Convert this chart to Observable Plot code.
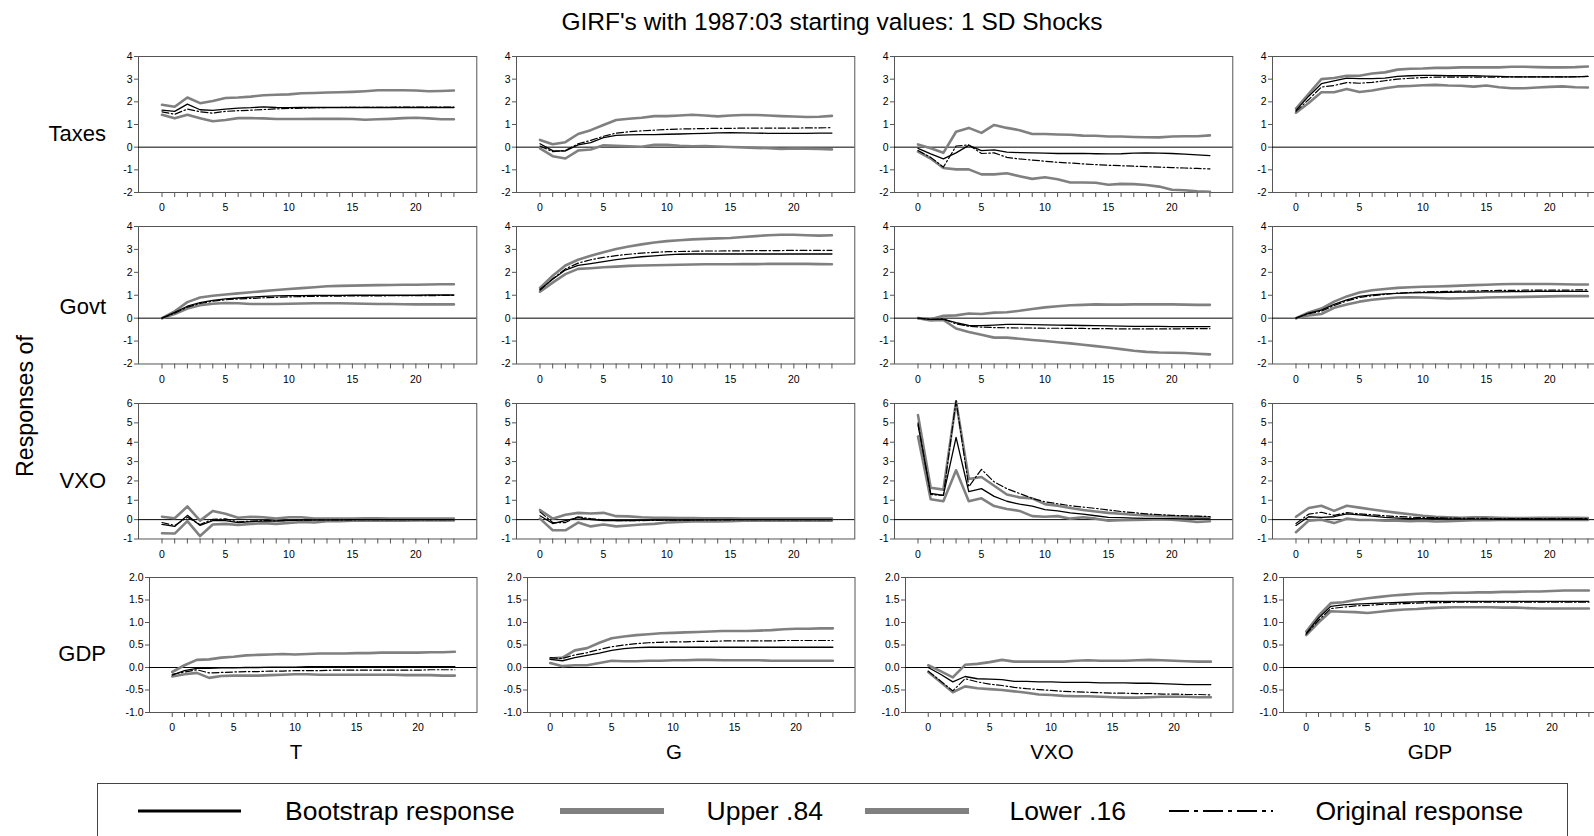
<!DOCTYPE html>
<html><head><meta charset="utf-8">
<script src="https://cdn.jsdelivr.net/npm/d3@7"></script>
<script src="https://cdn.jsdelivr.net/npm/@observablehq/plot@0.6"></script>
<style>
html,body{margin:0;padding:0;background:#fff;overflow:hidden;}
#root{position:relative;width:1594px;height:836px;overflow:hidden;font-family:"Liberation Sans",Arial,sans-serif;color:#000;}
.abs{position:absolute;white-space:nowrap;line-height:1;}
.c{transform:translate(-50%,-50%);}
</style></head><body><div id="root"></div>
<script>
// ---------- categories / labels ----------
const horizons = [0,1,2,3,4,5,6,7,8,9,10,11,12,13,14,15,16,17,18,19,20,21,22,23];
const responses = ["Taxes","Govt","VXO","GDP"];
const shocks = ["T","G","VXO","GDP"];
const xTickLabels = [0,5,10,15,20];
const yTicksTaxes = [-2,-1,0,1,2,3,4];
const yTicksGovt = [-2,-1,0,1,2,3,4];
const yTicksVXO = [-1,0,1,2,3,4,5,6];
const yTicksGDP = [-1.0,-0.5,0.0,0.5,1.0,1.5,2.0];
const titleText = "GIRF's with 1987:03 starting values: 1 SD Shocks";
const yAxisTitle = "Responses of";
const seriesNames = ["Bootstrap response","Upper .84","Lower .16","Original response"];

// ---------- Taxes responses ----------
const taxes_T_upper = [1.87,1.78,2.19,1.94,2.04,2.17,2.19,2.23,2.29,2.31,2.33,2.38,2.39,2.41,2.42,2.44,2.47,2.51,2.51,2.51,2.50,2.47,2.48,2.50];
const taxes_T_boot  = [1.63,1.58,1.90,1.65,1.62,1.68,1.72,1.74,1.78,1.75,1.74,1.75,1.75,1.75,1.75,1.75,1.75,1.75,1.75,1.75,1.75,1.75,1.75,1.75];
const taxes_T_orig  = [1.56,1.45,1.68,1.56,1.50,1.58,1.61,1.63,1.66,1.69,1.71,1.72,1.74,1.75,1.75,1.76,1.76,1.76,1.76,1.77,1.77,1.77,1.77,1.77];
const taxes_T_lower = [1.43,1.27,1.43,1.28,1.14,1.20,1.28,1.28,1.27,1.24,1.24,1.24,1.25,1.25,1.25,1.24,1.21,1.23,1.25,1.28,1.30,1.27,1.23,1.23];

const taxes_G_upper = [0.32,0.13,0.22,0.58,0.75,0.98,1.20,1.25,1.30,1.37,1.37,1.40,1.43,1.40,1.36,1.40,1.42,1.42,1.40,1.37,1.35,1.33,1.34,1.38];
const taxes_G_boot  = [0.15,-0.15,-0.17,0.10,0.20,0.42,0.52,0.54,0.55,0.55,0.57,0.58,0.60,0.61,0.63,0.64,0.63,0.62,0.61,0.61,0.61,0.61,0.62,0.62];
const taxes_G_orig  = [0.05,-0.20,-0.15,0.15,0.30,0.48,0.62,0.68,0.72,0.75,0.78,0.80,0.81,0.82,0.83,0.83,0.84,0.84,0.84,0.84,0.84,0.85,0.85,0.86];
const taxes_G_lower = [-0.05,-0.40,-0.50,-0.15,-0.10,0.08,0.06,0.04,0.02,0.10,0.10,0.06,0.04,0.05,0.03,0.01,-0.01,-0.03,-0.05,-0.08,-0.06,-0.07,-0.08,-0.10];

const taxes_VXO_upper = [0.12,-0.05,-0.25,0.68,0.85,0.63,0.98,0.85,0.75,0.58,0.58,0.56,0.55,0.51,0.50,0.47,0.47,0.45,0.44,0.43,0.47,0.48,0.48,0.52];
const taxes_VXO_boot  = [-0.05,-0.30,-0.52,-0.25,0.08,-0.15,-0.12,-0.22,-0.24,-0.25,-0.26,-0.28,-0.28,-0.27,-0.29,-0.30,-0.29,-0.26,-0.25,-0.26,-0.28,-0.31,-0.34,-0.37];
const taxes_VXO_orig  = [-0.15,-0.45,-0.88,0.05,0.10,-0.28,-0.25,-0.45,-0.52,-0.57,-0.62,-0.67,-0.70,-0.74,-0.77,-0.80,-0.82,-0.84,-0.86,-0.88,-0.90,-0.92,-0.94,-0.96];
const taxes_VXO_lower = [-0.20,-0.50,-0.92,-0.98,-0.98,-1.20,-1.20,-1.15,-1.28,-1.40,-1.33,-1.42,-1.56,-1.56,-1.57,-1.66,-1.62,-1.63,-1.67,-1.74,-1.88,-1.90,-1.95,-1.97];

const taxes_GDP_upper = [1.70,2.35,3.00,3.05,3.15,3.15,3.25,3.30,3.42,3.46,3.47,3.50,3.50,3.52,3.52,3.52,3.52,3.55,3.55,3.53,3.52,3.52,3.53,3.56];
const taxes_GDP_boot  = [1.62,2.25,2.80,2.92,3.05,3.02,3.02,3.05,3.12,3.15,3.17,3.17,3.15,3.15,3.15,3.13,3.12,3.10,3.10,3.10,3.10,3.10,3.10,3.12];
const taxes_GDP_orig  = [1.58,2.10,2.65,2.72,2.85,2.82,2.86,2.93,3.00,3.04,3.07,3.09,3.09,3.09,3.09,3.09,3.09,3.10,3.10,3.10,3.10,3.10,3.11,3.12];
const taxes_GDP_lower = [1.52,1.95,2.42,2.42,2.57,2.43,2.50,2.60,2.68,2.70,2.73,2.75,2.72,2.71,2.67,2.72,2.64,2.60,2.60,2.63,2.66,2.68,2.64,2.63];

// ---------- Govt responses ----------
const govt_T_upper = [0.00,0.30,0.70,0.90,0.98,1.03,1.08,1.13,1.18,1.23,1.27,1.31,1.35,1.39,1.41,1.42,1.43,1.44,1.45,1.46,1.46,1.47,1.48,1.48];
const govt_T_boot  = [0.00,0.25,0.52,0.68,0.78,0.84,0.88,0.92,0.95,0.97,0.98,0.98,0.99,0.99,0.99,1.00,1.00,1.00,1.00,1.00,1.00,1.01,1.01,1.01];
const govt_T_orig  = [0.00,0.22,0.48,0.64,0.74,0.80,0.84,0.86,0.89,0.91,0.93,0.94,0.95,0.96,0.96,0.97,0.97,0.97,0.98,0.98,0.98,0.98,0.99,0.99];
const govt_T_lower = [0.00,0.18,0.42,0.56,0.63,0.66,0.65,0.62,0.62,0.62,0.63,0.64,0.65,0.65,0.65,0.64,0.63,0.62,0.62,0.61,0.60,0.60,0.60,0.60];

const govt_G_upper = [1.32,1.85,2.30,2.55,2.72,2.88,3.02,3.13,3.22,3.30,3.36,3.40,3.44,3.46,3.48,3.50,3.54,3.58,3.62,3.64,3.64,3.62,3.60,3.62];
const govt_G_boot  = [1.25,1.70,2.10,2.30,2.38,2.47,2.55,2.62,2.68,2.72,2.76,2.79,2.80,2.80,2.80,2.80,2.80,2.80,2.80,2.80,2.80,2.80,2.80,2.80];
const govt_G_orig  = [1.22,1.72,2.15,2.40,2.55,2.65,2.73,2.79,2.84,2.87,2.90,2.91,2.92,2.93,2.93,2.94,2.94,2.95,2.95,2.95,2.96,2.96,2.96,2.96];
const govt_G_lower = [1.15,1.55,1.92,2.15,2.18,2.22,2.25,2.28,2.30,2.31,2.32,2.33,2.34,2.35,2.35,2.35,2.36,2.36,2.37,2.37,2.37,2.37,2.36,2.35];

const govt_VXO_upper = [0.00,-0.05,0.10,0.12,0.20,0.18,0.24,0.26,0.32,0.40,0.47,0.52,0.56,0.58,0.60,0.59,0.59,0.60,0.60,0.60,0.60,0.59,0.58,0.58];
const govt_VXO_boot  = [0.00,-0.05,-0.05,-0.20,-0.32,-0.33,-0.30,-0.27,-0.27,-0.28,-0.29,-0.30,-0.31,-0.32,-0.33,-0.34,-0.35,-0.36,-0.36,-0.36,-0.37,-0.37,-0.37,-0.37];
const govt_VXO_orig  = [0.00,-0.05,-0.03,-0.25,-0.35,-0.39,-0.41,-0.42,-0.43,-0.43,-0.44,-0.44,-0.45,-0.45,-0.46,-0.46,-0.47,-0.47,-0.47,-0.47,-0.47,-0.46,-0.46,-0.46];
const govt_VXO_lower = [0.00,-0.10,-0.08,-0.45,-0.60,-0.72,-0.85,-0.85,-0.90,-0.95,-1.00,-1.05,-1.10,-1.16,-1.22,-1.28,-1.35,-1.42,-1.47,-1.50,-1.51,-1.52,-1.55,-1.58];

const govt_GDP_upper = [0.00,0.25,0.42,0.72,0.95,1.12,1.22,1.27,1.32,1.35,1.37,1.38,1.40,1.42,1.44,1.46,1.48,1.49,1.49,1.49,1.49,1.48,1.47,1.47];
const govt_GDP_boot  = [0.00,0.22,0.35,0.60,0.80,0.95,1.02,1.06,1.08,1.10,1.11,1.12,1.13,1.14,1.14,1.15,1.15,1.16,1.16,1.17,1.17,1.17,1.17,1.17];
const govt_GDP_orig  = [0.00,0.20,0.30,0.55,0.75,0.90,0.98,1.04,1.09,1.12,1.14,1.16,1.17,1.18,1.19,1.20,1.21,1.21,1.22,1.22,1.22,1.22,1.23,1.23];
const govt_GDP_lower = [0.00,0.12,0.18,0.45,0.60,0.72,0.80,0.86,0.90,0.91,0.90,0.88,0.86,0.87,0.88,0.90,0.91,0.92,0.93,0.94,0.95,0.96,0.96,0.96];

// ---------- VXO responses ----------
const vxo_T_upper = [0.15,0.07,0.68,-0.05,0.45,0.30,0.10,0.15,0.12,0.05,0.12,0.12,0.05,0.05,0.06,0.06,0.07,0.07,0.06,0.06,0.06,0.06,0.06,0.06];
const vxo_T_boot  = [-0.25,-0.35,0.22,-0.30,-0.05,-0.05,-0.15,-0.10,-0.08,-0.07,-0.05,-0.03,-0.02,-0.01,-0.01,0.00,0.00,0.00,0.00,0.00,0.00,0.00,0.00,0.00];
const vxo_T_orig  = [-0.15,-0.30,0.12,-0.25,0.02,0.04,-0.12,-0.08,-0.05,-0.06,-0.04,-0.03,-0.02,-0.02,-0.01,-0.01,0.00,0.00,0.00,0.00,0.00,0.00,0.00,0.00];
const vxo_T_lower = [-0.70,-0.72,-0.08,-0.85,-0.25,-0.22,-0.28,-0.22,-0.18,-0.22,-0.17,-0.12,-0.15,-0.08,-0.08,-0.06,-0.05,-0.05,-0.05,-0.05,-0.04,-0.04,-0.04,-0.04];

const vxo_G_upper = [0.50,0.05,0.25,0.35,0.32,0.35,0.18,0.17,0.12,0.10,0.10,0.08,0.08,0.07,0.07,0.07,0.06,0.06,0.06,0.06,0.05,0.05,0.05,0.05];
const vxo_G_boot  = [0.20,-0.20,-0.05,0.10,0.00,-0.05,-0.05,-0.05,-0.04,-0.03,-0.03,-0.02,-0.02,-0.01,-0.01,0.00,0.00,0.00,0.00,0.00,0.00,0.00,0.00,0.00];
const vxo_G_orig  = [0.40,-0.15,-0.15,0.15,0.05,-0.02,-0.05,-0.05,-0.05,-0.04,-0.03,-0.03,-0.02,-0.02,-0.01,-0.01,0.00,0.00,0.00,0.00,0.00,0.00,0.00,0.00];
const vxo_G_lower = [0.05,-0.55,-0.55,-0.15,-0.35,-0.25,-0.35,-0.30,-0.25,-0.22,-0.15,-0.12,-0.10,-0.10,-0.10,-0.08,-0.06,-0.06,-0.05,-0.05,-0.05,-0.05,-0.05,-0.05];

const vxo_VXO_upper = [5.40,1.65,1.55,6.10,2.10,2.20,1.75,1.30,1.15,1.10,0.80,0.72,0.60,0.50,0.42,0.35,0.30,0.25,0.22,0.20,0.17,0.15,0.13,0.12];
const vxo_VXO_boot  = [4.90,1.35,1.25,4.25,1.45,1.60,1.20,0.95,0.80,0.70,0.52,0.45,0.35,0.28,0.20,0.12,0.10,0.08,0.07,0.06,0.05,0.04,0.04,0.04];
const vxo_VXO_orig  = [5.00,1.30,1.25,6.15,1.70,2.60,1.95,1.60,1.35,1.10,0.92,0.82,0.72,0.65,0.58,0.50,0.42,0.36,0.30,0.26,0.22,0.20,0.18,0.16];
const vxo_VXO_lower = [4.30,1.05,0.95,2.55,0.95,1.10,0.70,0.55,0.45,0.18,0.15,0.18,0.05,0.12,0.05,-0.05,-0.03,-0.02,0.00,0.02,0.00,-0.05,-0.12,-0.08];

const vxo_GDP_upper = [0.15,0.60,0.72,0.45,0.72,0.62,0.52,0.43,0.35,0.28,0.20,0.15,0.12,0.10,0.12,0.12,0.10,0.08,0.08,0.09,0.10,0.10,0.09,0.08];
const vxo_GDP_boot  = [-0.30,0.15,0.12,0.15,0.30,0.25,0.18,0.12,0.08,0.05,0.05,0.06,0.04,0.03,0.03,0.03,0.02,0.02,0.02,0.02,0.02,0.02,0.02,0.02];
const vxo_GDP_orig  = [-0.20,0.28,0.38,0.22,0.36,0.30,0.25,0.20,0.16,0.13,0.10,0.10,0.08,0.07,0.06,0.06,0.05,0.05,0.05,0.05,0.05,0.05,0.05,0.05];
const vxo_GDP_lower = [-0.65,-0.05,0.00,-0.18,0.05,-0.02,-0.02,-0.05,-0.05,-0.08,-0.05,-0.10,-0.08,-0.05,-0.03,-0.03,-0.02,-0.02,-0.02,-0.02,-0.02,-0.02,-0.02,-0.02];

// ---------- GDP responses ----------
const gdp_T_upper = [-0.10,0.05,0.17,0.18,0.22,0.24,0.27,0.28,0.29,0.30,0.29,0.30,0.31,0.31,0.31,0.32,0.32,0.33,0.33,0.33,0.33,0.34,0.34,0.35];
const gdp_T_boot  = [-0.17,-0.07,-0.02,-0.02,-0.01,-0.01,0.00,0.00,0.01,0.01,0.01,0.02,0.02,0.02,0.02,0.02,0.02,0.02,0.02,0.02,0.02,0.02,0.02,0.02];
const gdp_T_orig  = [-0.15,-0.10,-0.05,-0.12,-0.11,-0.10,-0.09,-0.09,-0.08,-0.08,-0.07,-0.07,-0.07,-0.06,-0.06,-0.06,-0.06,-0.06,-0.06,-0.06,-0.06,-0.05,-0.05,-0.05];
const gdp_T_lower = [-0.20,-0.15,-0.12,-0.23,-0.19,-0.18,-0.18,-0.18,-0.17,-0.16,-0.15,-0.15,-0.16,-0.16,-0.16,-0.16,-0.16,-0.16,-0.16,-0.17,-0.17,-0.17,-0.18,-0.18];

const gdp_G_upper = [0.20,0.22,0.38,0.43,0.55,0.65,0.69,0.72,0.74,0.76,0.77,0.78,0.79,0.80,0.81,0.81,0.81,0.82,0.83,0.85,0.86,0.86,0.87,0.87];
const gdp_G_boot  = [0.18,0.15,0.22,0.27,0.32,0.38,0.42,0.44,0.45,0.45,0.45,0.45,0.45,0.45,0.45,0.45,0.45,0.45,0.45,0.45,0.45,0.45,0.45,0.45];
const gdp_G_orig  = [0.22,0.20,0.28,0.33,0.40,0.46,0.50,0.53,0.55,0.56,0.57,0.57,0.58,0.58,0.59,0.59,0.59,0.59,0.59,0.60,0.60,0.60,0.60,0.60];
const gdp_G_lower = [0.10,0.03,0.05,0.05,0.10,0.15,0.14,0.14,0.15,0.15,0.16,0.16,0.17,0.17,0.16,0.16,0.16,0.16,0.15,0.15,0.15,0.15,0.15,0.15];

const gdp_VXO_upper = [0.05,-0.08,-0.22,0.06,0.08,0.12,0.17,0.13,0.13,0.13,0.13,0.13,0.15,0.16,0.15,0.15,0.15,0.16,0.17,0.16,0.15,0.14,0.13,0.13];
const gdp_VXO_boot  = [0.00,-0.15,-0.32,-0.20,-0.25,-0.26,-0.27,-0.31,-0.31,-0.32,-0.32,-0.33,-0.33,-0.33,-0.34,-0.34,-0.34,-0.35,-0.35,-0.36,-0.37,-0.38,-0.38,-0.38];
const gdp_VXO_orig  = [-0.08,-0.30,-0.52,-0.25,-0.32,-0.37,-0.40,-0.44,-0.47,-0.49,-0.51,-0.53,-0.54,-0.55,-0.56,-0.57,-0.57,-0.58,-0.58,-0.59,-0.59,-0.60,-0.60,-0.61];
const gdp_VXO_lower = [-0.10,-0.32,-0.55,-0.42,-0.46,-0.48,-0.50,-0.53,-0.56,-0.60,-0.61,-0.63,-0.64,-0.64,-0.65,-0.66,-0.67,-0.67,-0.66,-0.65,-0.65,-0.65,-0.66,-0.66];

const gdp_GDP_upper = [0.80,1.15,1.43,1.45,1.50,1.54,1.57,1.60,1.62,1.64,1.65,1.65,1.66,1.66,1.67,1.67,1.68,1.68,1.69,1.69,1.70,1.71,1.71,1.71];
const gdp_GDP_boot  = [0.76,1.10,1.36,1.39,1.41,1.42,1.43,1.44,1.45,1.46,1.47,1.47,1.47,1.47,1.47,1.47,1.47,1.47,1.47,1.47,1.47,1.47,1.47,1.47];
const gdp_GDP_orig  = [0.74,1.05,1.31,1.34,1.37,1.38,1.40,1.41,1.42,1.43,1.44,1.44,1.45,1.45,1.45,1.45,1.45,1.45,1.45,1.45,1.45,1.45,1.45,1.45];
const gdp_GDP_lower = [0.72,1.00,1.25,1.24,1.23,1.21,1.24,1.27,1.29,1.30,1.32,1.33,1.34,1.34,1.34,1.34,1.33,1.33,1.32,1.31,1.31,1.31,1.31,1.31];

// ---------- assemble ----------
const panels = [
  [[taxes_T_boot,taxes_T_upper,taxes_T_lower,taxes_T_orig],[taxes_G_boot,taxes_G_upper,taxes_G_lower,taxes_G_orig],[taxes_VXO_boot,taxes_VXO_upper,taxes_VXO_lower,taxes_VXO_orig],[taxes_GDP_boot,taxes_GDP_upper,taxes_GDP_lower,taxes_GDP_orig]],
  [[govt_T_boot,govt_T_upper,govt_T_lower,govt_T_orig],[govt_G_boot,govt_G_upper,govt_G_lower,govt_G_orig],[govt_VXO_boot,govt_VXO_upper,govt_VXO_lower,govt_VXO_orig],[govt_GDP_boot,govt_GDP_upper,govt_GDP_lower,govt_GDP_orig]],
  [[vxo_T_boot,vxo_T_upper,vxo_T_lower,vxo_T_orig],[vxo_G_boot,vxo_G_upper,vxo_G_lower,vxo_G_orig],[vxo_VXO_boot,vxo_VXO_upper,vxo_VXO_lower,vxo_VXO_orig],[vxo_GDP_boot,vxo_GDP_upper,vxo_GDP_lower,vxo_GDP_orig]],
  [[gdp_T_boot,gdp_T_upper,gdp_T_lower,gdp_T_orig],[gdp_G_boot,gdp_G_upper,gdp_G_lower,gdp_G_orig],[gdp_VXO_boot,gdp_VXO_upper,gdp_VXO_lower,gdp_VXO_orig],[gdp_GDP_boot,gdp_GDP_upper,gdp_GDP_lower,gdp_GDP_orig]]
];
const yTicksByRow = [yTicksTaxes, yTicksGovt, yTicksVXO, yTicksGDP];

// ---------- layout ----------
const FONT = '"Liberation Sans", Arial, sans-serif';
const GRAY = "#808080";
const colStep = 378;
const rowTop = [55.5, 226, 402.5, 576.5];
const rowH = [136, 137.5, 135.5, 135];
const frameLeft = [137.7, 137.7, 137.7, 148.5];
const frameRight = 476;
const root = document.getElementById("root");

function addText(txt, x, y, size, extra) {
  const d = document.createElement("div");
  d.className = "abs c";
  d.textContent = txt;
  d.style.left = x + "px"; d.style.top = y + "px";
  d.style.fontSize = size + "px";
  if (extra) Object.assign(d.style, extra);
  root.appendChild(d);
  return d;
}

for (let r = 0; r < 4; r++) {
  for (let c = 0; c < 4; c++) {
    const [boot, upper, lower, orig] = panels[r][c];
    const fl = frameLeft[r] + colStep * c;
    const fr = frameRight + colStep * c;
    const ml = 40, mt = 10, mb = 26;
    const yt = yTicksByRow[r];
    const fmt = r === 3 ? (d => d.toFixed(1)) : (d => String(d));
    const svg = Plot.plot({
      width: ml + (fr - fl), height: mt + rowH[r] + mb,
      marginLeft: ml, marginRight: 0, marginTop: mt, marginBottom: mb,
      x: {domain: [-1.85, 24.8]},
      y: {domain: [yt[0], yt[yt.length - 1]]},
      style: {fontFamily: FONT, fontSize: "10.5px", background: "transparent", overflow: "visible", maxWidth: "none", color: "#000"},
      marks: [
        Plot.frame({stroke: "#555", strokeWidth: 1}),
        Plot.ruleY([0], {stroke: "#000", strokeWidth: 1}),
        Plot.line(horizons, {x: d => d, y: (d, i) => upper[i], stroke: GRAY, strokeWidth: 2.6}),
        Plot.line(horizons, {x: d => d, y: (d, i) => lower[i], stroke: GRAY, strokeWidth: 2.6}),
        Plot.line(horizons, {x: d => d, y: (d, i) => orig[i], stroke: "#000", strokeWidth: 1.2, strokeDasharray: "7,2.5,1.5,2.5"}),
        Plot.line(horizons, {x: d => d, y: (d, i) => boot[i], stroke: "#000", strokeWidth: 1.3}),
        Plot.axisY({ticks: yt, tickSize: 4, tickPadding: 2, tickFormat: fmt, label: null, stroke: "#555"}),
        Plot.axisX({ticks: horizons, tickSize: 5, tickPadding: 6.5, tickFormat: d => xTickLabels.includes(d) ? String(d) : "", label: null, stroke: "#555"})
      ]
    });
    svg.style.position = "absolute";
    svg.style.left = (fl - ml) + "px";
    svg.style.top = (rowTop[r] - mt) + "px";
    root.appendChild(svg);
  }
}

// ---------- texts ----------
addText(titleText, 832, 22, 24.5);
const rowLabelY = [134, 307, 481, 654];
responses.forEach((t, i) => {
  const d = document.createElement("div");
  d.className = "abs";
  d.textContent = t;
  d.style.right = (1594 - 106) + "px";
  d.style.top = (rowLabelY[i] - 11) + "px";
  d.style.fontSize = "22px";
  root.appendChild(d);
});
addText(yAxisTitle, 25.5, 406, 23.2, {transform: "translate(-50%,-50%) rotate(-90deg)"});
shocks.forEach((t, i) => addText(t, 296 + colStep * i, 752, 20.5));

// ---------- legend ----------
const box = document.createElement("div");
box.style.cssText = "position:absolute;left:96.5px;top:783px;width:1471px;height:80px;border:1px solid #444;box-sizing:border-box;";
root.appendChild(box);
const legendItems = [
  {x0: 138, x1: 241, tx: 285, stroke: "#000", w: 3, dash: null},
  {x0: 560, x1: 664, tx: 706.5, stroke: GRAY, w: 6, dash: null},
  {x0: 865, x1: 969, tx: 1009.5, stroke: GRAY, w: 6, dash: null},
  {x0: 1169, x1: 1273, tx: 1315.5, stroke: "#000", w: 2, dash: "20,5,4,5"}
];
const ns = "http://www.w3.org/2000/svg";
const lsvg = document.createElementNS(ns, "svg");
lsvg.setAttribute("width", 1594); lsvg.setAttribute("height", 836);
lsvg.style.cssText = "position:absolute;left:0;top:0;";
legendItems.forEach((it, i) => {
  const ln = document.createElementNS(ns, "line");
  ln.setAttribute("x1", it.x0); ln.setAttribute("x2", it.x1);
  ln.setAttribute("y1", 811); ln.setAttribute("y2", 811);
  ln.setAttribute("stroke", it.stroke); ln.setAttribute("stroke-width", it.w);
  if (it.dash) ln.setAttribute("stroke-dasharray", it.dash);
  lsvg.appendChild(ln);
  const tx = document.createElementNS(ns, "text");
  tx.setAttribute("x", it.tx); tx.setAttribute("y", 811);
  tx.setAttribute("dominant-baseline", "central");
  tx.setAttribute("font-family", FONT); tx.setAttribute("font-size", 26.5);
  tx.textContent = seriesNames[i];
  lsvg.appendChild(tx);
});
root.appendChild(lsvg);
</script></body></html>
